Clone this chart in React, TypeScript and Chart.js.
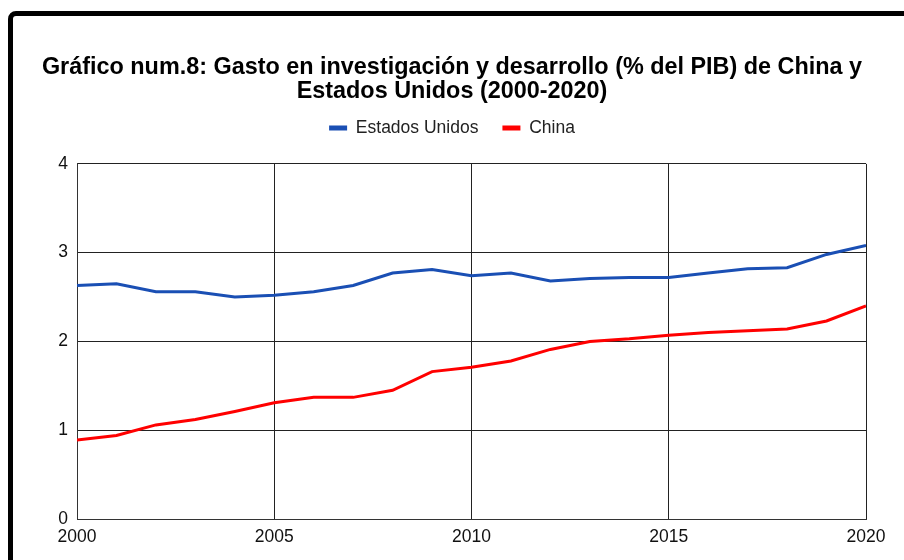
import React, { useEffect, useRef } from "react";
import { Chart, registerables } from "chart.js";

Chart.register(...registerables);

const years = [2000, 2001, 2002, 2003, 2004, 2005, 2006, 2007, 2008, 2009, 2010, 2011, 2012, 2013, 2014, 2015, 2016, 2017, 2018, 2019, 2020];
const usa = [2.63, 2.65, 2.56, 2.56, 2.5, 2.52, 2.56, 2.63, 2.77, 2.81, 2.74, 2.77, 2.68, 2.71, 2.72, 2.72, 2.77, 2.82, 2.83, 2.98, 3.08];
const china = [0.89, 0.94, 1.06, 1.12, 1.21, 1.31, 1.37, 1.37, 1.45, 1.66, 1.71, 1.78, 1.91, 2.0, 2.03, 2.07, 2.1, 2.12, 2.14, 2.23, 2.4];
const titleLines = ["Gráfico num.8: Gasto en investigación y desarrollo (% del PIB) de China y", "Estados Unidos (2000-2020)"];
const seriesNames = ["Estados Unidos", "China"];
const seriesColors = ["#1a4fb4", "#ff0000"];

export default function App() {
  const ref = useRef<HTMLCanvasElement | null>(null);
  useEffect(() => {
    if (!ref.current) return;
    const font = "Arial, 'Liberation Sans', sans-serif";
    const chart = new Chart(ref.current, {
      type: "line",
      data: {
        datasets: [
          {
            label: seriesNames[0],
            data: years.map((y, i) => ({ x: y, y: usa[i] })),
            borderColor: seriesColors[0],
            backgroundColor: seriesColors[0],
            borderWidth: 3,
            pointRadius: 0,
            tension: 0,
          },
          {
            label: seriesNames[1],
            data: years.map((y, i) => ({ x: y, y: china[i] })),
            borderColor: seriesColors[1],
            backgroundColor: seriesColors[1],
            borderWidth: 3,
            pointRadius: 0,
            tension: 0,
          },
        ],
      },
      options: {
        animation: false,
        responsive: false,
        layout: { padding: { top: 0, left: 0, right: 0, bottom: 4 } },
        plugins: {
          tooltip: { enabled: false },
          title: {
            display: true,
            text: titleLines,
            color: "#000",
            font: { family: font, size: 23.4, weight: "bold", lineHeight: 1.02 },
            padding: { top: 39.5, bottom: -8.1 },
          },
          legend: {
            display: true,
            labels: {
              color: "#222",
              font: { family: font, size: 17.5 },
              boxWidth: 18,
              boxHeight: 5,
              padding: 24,
              generateLabels: (c: any) =>
                (Chart.defaults.plugins.legend.labels as any).generateLabels(c).map((l: any) => ({ ...l, lineWidth: 0 })),
            },
          },
        },
        scales: {
          x: {
            type: "linear",
            min: 2000,
            max: 2020,
            border: { color: "#333", width: 1 },
            grid: { color: "#222", lineWidth: 1, drawTicks: false },
            ticks: {
              stepSize: 5,
              color: "#111",
              padding: 8,
              font: { family: font, size: 17.5 },
              callback: (v: any) => String(v),
            },
            afterFit: (s: any) => {
              s.paddingRight = 25;
            },
          },
          x2: {
            type: "linear",
            position: "top",
            min: 2000,
            max: 2020,
            border: { display: false },
            grid: { display: false, drawTicks: false },
            ticks: { display: false },
            title: { display: true, text: "", font: { size: 1, lineHeight: 1 }, padding: { top: 16.25, bottom: 0 } },
          },
          y: {
            min: 0,
            max: 4,
            border: { color: "#333", width: 1 },
            grid: { color: "#222", lineWidth: 1, drawTicks: false },
            ticks: {
              stepSize: 1,
              color: "#111",
              padding: 9,
              font: { family: font, size: 17.5 },
            },
            afterFit: (s: any) => {
              s.width = 64;
            },
          },
        },
      },
    });
    return () => chart.destroy();
  }, []);
  return (
    <div style={{ position: "absolute", left: 8, top: 11, width: 896, height: 549, overflow: "hidden" }}>
      <div
        style={{
          position: "absolute",
          left: 0,
          top: 0,
          width: 1000,
          height: 1000,
          border: "5px solid #000",
          borderRadius: 8,
          boxSizing: "border-box",
        }}
      >
        <canvas ref={ref} width={878} height={544} style={{ display: "block", width: 878, height: 544 }} />
      </div>
    </div>
  );
}
